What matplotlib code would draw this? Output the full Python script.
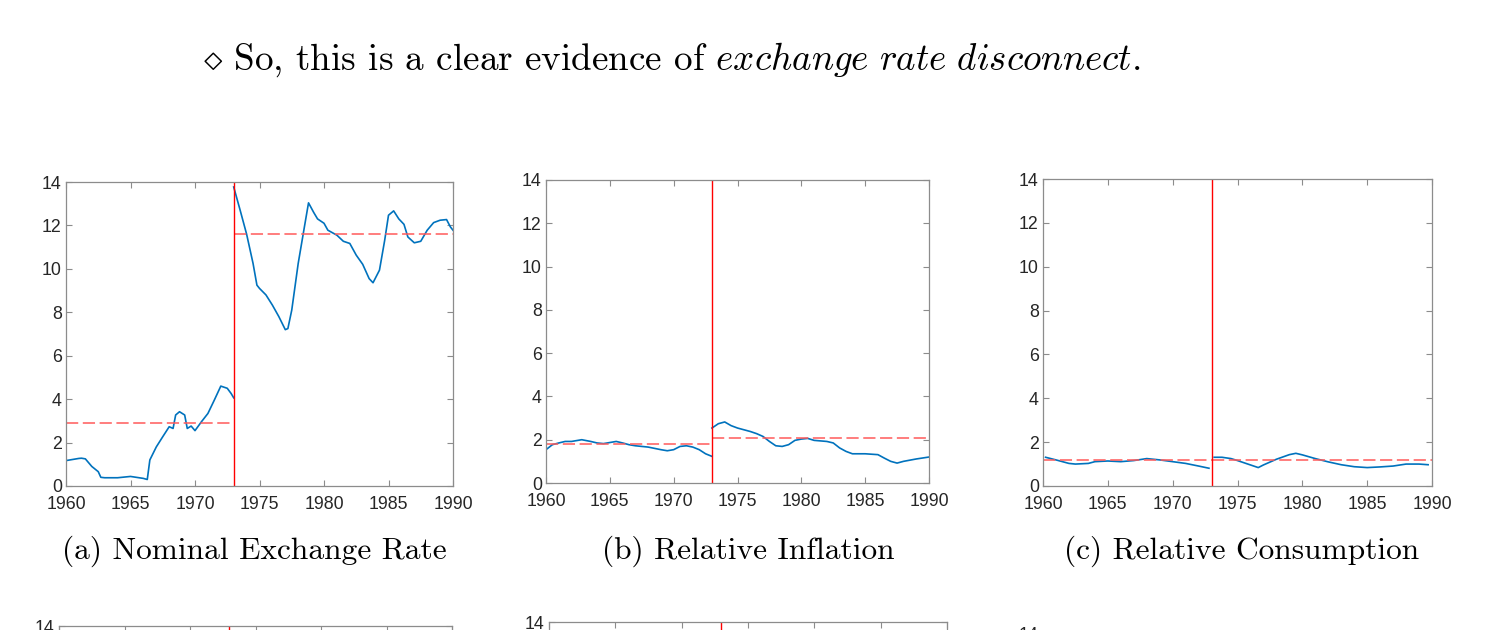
import numpy as np
import matplotlib
matplotlib.use("Agg")
import matplotlib.pyplot as plt

plt.rcParams["mathtext.fontset"] = "cm"

# ---------------- data ----------------
break_year = 1973

# (a) nominal exchange rate
ner_pre_t = [1960, 1961, 1961.2, 1961.5, 1962, 1962.5, 1962.7, 1963, 1964, 1965, 1966,
             1966.3, 1966.5, 1967, 1967.5, 1968, 1968.3, 1968.5, 1968.8, 1969.2, 1969.4,
             1969.7, 1970, 1970.5, 1971, 1971.5, 1972, 1972.5, 1972.8, 1973]
ner_pre_v = [1.17, 1.27, 1.28, 1.25, 0.9, 0.66, 0.4, 0.38, 0.38, 0.44, 0.35,
             0.3, 1.2, 1.8, 2.27, 2.73, 2.65, 3.27, 3.42, 3.27, 2.65,
             2.76, 2.55, 2.96, 3.34, 3.96, 4.6, 4.5, 4.26, 4.06]
ner_post_t = [1973, 1973.5, 1974, 1974.5, 1974.8, 1975, 1975.5, 1976, 1976.5, 1977, 1977.2,
              1977.5, 1978, 1978.5, 1978.8, 1979.2, 1979.5, 1980, 1980.3, 1981, 1981.5,
              1982, 1982.5, 1983, 1983.5, 1983.8, 1984.3, 1984.7, 1985, 1985.4, 1985.8,
              1986.2, 1986.5, 1987, 1987.5, 1988, 1988.5, 1989, 1989.5, 1989.8, 1990]
ner_post_v = [13.77, 12.7, 11.6, 10.25, 9.25, 9.1, 8.8, 8.33, 7.8, 7.2, 7.25,
              8.1, 10.25, 12.0, 13.04, 12.6, 12.3, 12.1, 11.78, 11.55, 11.27,
              11.17, 10.63, 10.21, 9.55, 9.36, 9.94, 11.3, 12.47, 12.67, 12.3,
              12.05, 11.47, 11.2, 11.27, 11.78, 12.13, 12.24, 12.27, 11.93, 11.78]
ner_means = [2.88, 11.62]

# (b) relative inflation
inf_pre_t = [1960, 1960.5, 1961, 1961.5, 1962, 1962.8, 1963.5, 1964, 1964.5, 1965.5, 1966,
             1966.5, 1967, 1968, 1969, 1969.5, 1970, 1970.5, 1971, 1971.5, 1972, 1972.5, 1973]
inf_pre_v = [1.54, 1.77, 1.85, 1.92, 1.92, 2.0, 1.92, 1.85, 1.82, 1.92, 1.85,
             1.77, 1.72, 1.66, 1.54, 1.49, 1.54, 1.69, 1.72, 1.66, 1.54, 1.35, 1.23]
inf_post_t = [1973, 1973.5, 1974, 1974.5, 1975, 1975.5, 1976, 1976.5, 1977, 1977.5, 1978,
              1978.5, 1979, 1979.5, 1980, 1980.5, 1981, 1982, 1982.5, 1983, 1983.5, 1984,
              1985, 1986, 1986.5, 1987, 1987.5, 1988, 1989, 1990]
inf_post_v = [2.54, 2.74, 2.82, 2.65, 2.54, 2.46, 2.38, 2.28, 2.15, 1.92, 1.72,
              1.69, 1.77, 1.97, 2.03, 2.06, 1.97, 1.92, 1.85, 1.62, 1.46, 1.35,
              1.35, 1.31, 1.15, 1.0, 0.92, 1.0, 1.11, 1.2]
inf_means = [1.82, 2.06]

# (c) relative consumption
con_pre_t = [1960.2, 1961, 1962, 1962.5, 1963.5, 1964, 1965, 1966, 1967, 1968, 1969,
             1970, 1971, 1972, 1972.8]
con_pre_v = [1.31, 1.19, 1.03, 1.0, 1.03, 1.11, 1.14, 1.11, 1.16, 1.25, 1.19,
             1.11, 1.03, 0.91, 0.81]
con_post_t = [1973.2, 1973.8, 1974.5, 1975, 1976, 1976.6, 1977, 1978, 1979, 1979.5, 1980,
              1981, 1982, 1983, 1984, 1985, 1986, 1987, 1988, 1989, 1989.7]
con_post_v = [1.31, 1.31, 1.25, 1.16, 0.96, 0.84, 0.96, 1.22, 1.43, 1.49, 1.42,
              1.25, 1.1, 0.97, 0.88, 0.84, 0.87, 0.91, 1.0, 1.0, 0.97]
con_means = [1.19, 1.19]

captions = ["(a) Nominal Exchange Rate", "(b) Relative Inflation", "(c) Relative Consumption"]

BLUE = "#0072BD"
TICK_FONT = "Liberation Sans"


def style_axes(ax, xlabels=True):
    ax.set_xlim(1960, 1990)
    ax.set_ylim(0, 14)
    ax.set_xticks(range(1960, 1991, 5))
    ax.set_yticks(range(0, 15, 2))
    ax.tick_params(direction="in", top=True, right=True, length=4, width=0.8,
                   colors="#8c8c8c", labelcolor="#262626", labelsize=12.8)
    ax.tick_params(axis="x", pad=7, labelbottom=xlabels)
    ax.tick_params(axis="y", pad=3)
    if not xlabels:
        # only the top label shows above the page edge
        ax.set_yticklabels([""] * 7 + ["14"])
    for lab in ax.get_xticklabels() + ax.get_yticklabels():
        lab.set_family(TICK_FONT)
    for sp in ax.spines.values():
        sp.set_color("#8c8c8c")
        sp.set_linewidth(0.9)


fig = plt.figure(figsize=(15, 6.3), dpi=100)

# ---------------- top sentence ----------------
fig.text(672 / 1500, 1 - 60 / 630,
         r"$\diamond$ So, this is a clear evidence of $\mathit{exchange\ rate\ disconnect}$.",
         family="cmr10", fontsize=26.7, ha="center", va="center", color="black")

boxes = [(66, 453, 182, 486), (546, 929, 180, 483), (1043, 1432, 179, 486)]
series = [(ner_pre_t, ner_pre_v, ner_post_t, ner_post_v, ner_means),
          (inf_pre_t, inf_pre_v, inf_post_t, inf_post_v, inf_means),
          (con_pre_t, con_pre_v, con_post_t, con_post_v, con_means)]
cap_x = [254, 748, 1242]

for (x0, x1, y0, y1), (pt, pv, qt, qv, mu), cap, cx in zip(boxes, series, captions, cap_x):
    ax = fig.add_axes([x0 / 1500, 1 - y1 / 630, (x1 - x0) / 1500, (y1 - y0) / 630])
    ax.plot(pt, pv, color=BLUE, lw=1.2)
    ax.plot(qt, qv, color=BLUE, lw=1.2)
    ax.plot([1960, break_year], [mu[0], mu[0]], color="#ff5a5a", lw=1.1, dashes=(8, 3))
    ax.plot([break_year, 1990], [mu[1], mu[1]], color="#ff5a5a", lw=1.1, dashes=(8, 3))
    ax.axvline(break_year, color="red", lw=1.0)
    style_axes(ax)
    fig.text(cx / 1500, 1 - 551 / 630, cap, family="cmr10", fontsize=22.6,
             ha="center", va="center", color="black")

# ---------------- next row, cut off by the page edge ----------------
lower = [(59, 452, 626), (549, 947, 622), (1043, 1432, 633)]
for x0, x1, top in lower:
    ax = fig.add_axes([x0 / 1500, 1 - (top + 304) / 630, (x1 - x0) / 1500, 304 / 630])
    ax.axvline(break_year, color="red", lw=1.0)
    style_axes(ax, xlabels=False)

fig.savefig("out.png", dpi=100)
